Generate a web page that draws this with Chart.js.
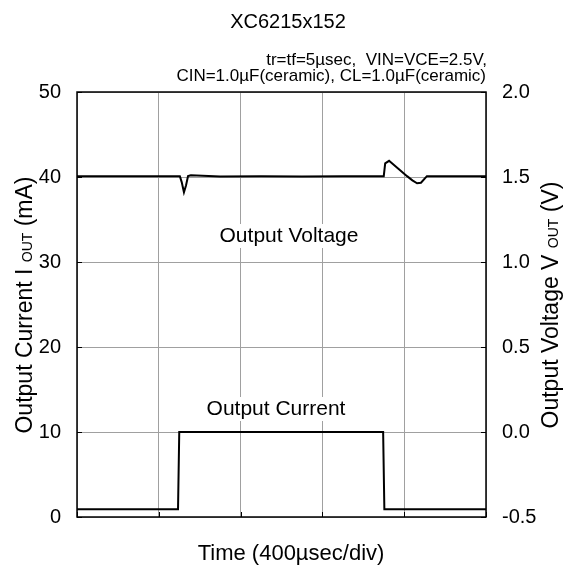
<!DOCTYPE html>
<html>
<head>
<meta charset="utf-8">
<script src="https://cdn.jsdelivr.net/npm/chart.js@4.4.1/dist/chart.umd.min.js"></script>
<style>
  body { margin: 0; background: #fff; }
</style>
</head>
<body>
<canvas id="chart" width="581" height="567"></canvas>
<script>
// time in usec, 400 usec per division
const currentTime = [0, 494, 500, 1497, 1503, 2000];
const currentValues = [0.9, 0.9, 10, 10, 0.9, 0.9];

const voltageTime = [0, 300, 503, 512, 523, 533, 543, 557, 700, 900, 1100, 1300, 1500, 1507, 1526, 1570, 1614, 1640, 1663, 1682, 1711, 1800, 2000];
const voltageValues = [1.505, 1.505, 1.505, 1.47, 1.41, 1.45, 1.505, 1.51, 1.503, 1.505, 1.503, 1.505, 1.505, 1.58, 1.595, 1.55, 1.505, 1.48, 1.463, 1.466, 1.505, 1.505, 1.505];

const currentTicks = [0, 10, 20, 30, 40, 50];
const voltageTicks = [-0.5, 0.0, 0.5, 1.0, 1.5, 2.0];
const timeDivs = [0, 400, 800, 1200, 1600, 2000];

const FONT = "'Liberation Sans', Arial, sans-serif";

const textPlugin = {
  id: 'textPlugin',
  beforeDatasetsDraw(chart) {
    const { ctx, chartArea: { left, right, top, bottom }, scales: { x, y, y1 } } = chart;
    ctx.save();
    // inward tick marks
    ctx.strokeStyle = '#000';
    ctx.lineWidth = 1;
    ctx.beginPath();
    currentTicks.forEach((v) => {
      const py = Math.round(y.getPixelForValue(v)) + 0.5;
      ctx.moveTo(left, py); ctx.lineTo(left + 5, py);
    });
    voltageTicks.forEach((v) => {
      const py = Math.round(y1.getPixelForValue(v)) + 0.5;
      ctx.moveTo(right, py); ctx.lineTo(right - 5, py);
    });
    timeDivs.forEach((v) => {
      const px = Math.round(x.getPixelForValue(v)) + 0.5;
      ctx.moveTo(px, bottom); ctx.lineTo(px, bottom - 5);
    });
    ctx.stroke();

    // labels inside the plot, white box hides the grid behind them
    ctx.font = '21px ' + FONT;
    ctx.textAlign = 'center';
    ctx.textBaseline = 'alphabetic';
    [['Output Voltage', 289, 242], ['Output Current', 276, 415]].forEach(([t, cx, by]) => {
      const w = ctx.measureText(t).width;
      ctx.fillStyle = '#fff';
      ctx.fillRect(cx - w / 2 - 3, by - 18, w + 6, 24);
      ctx.fillStyle = '#000';
      ctx.fillText(t, cx, by);
    });
    ctx.restore();
  },
  afterDraw(chart) {
    const { ctx, chartArea: { left, right, top, bottom } } = chart;
    ctx.save();
    // frame
    ctx.strokeStyle = '#000';
    ctx.lineWidth = 1.5;
    ctx.strokeRect(left, top, right - left, bottom - top);

    ctx.fillStyle = '#000';
    ctx.textBaseline = 'alphabetic';
    ctx.font = '20px ' + FONT;
    ctx.textAlign = 'center';
    ctx.fillText('XC6215x152', 288, 28);
    ctx.font = '22px ' + FONT;
    ctx.fillText('Time (400µsec/div)', 291, 560);

    ctx.font = '17px ' + FONT;
    ctx.textAlign = 'right';
    ctx.fillText('tr=tf=5µsec,  VIN=VCE=2.5V,', 487, 65);
    ctx.fillText('CIN=1.0µF(ceramic), CL=1.0µF(ceramic)', 486, 81);

    // rotated axis titles with small "OUT"
    const drawRotated = (parts, bx, cy) => {
      let total = 0;
      parts.forEach(([t, size]) => { ctx.font = size + 'px ' + FONT; total += ctx.measureText(t).width; });
      ctx.save();
      ctx.translate(bx, cy);
      ctx.rotate(-Math.PI / 2);
      ctx.textAlign = 'left';
      let pos = -total / 2;
      parts.forEach(([t, size]) => {
        ctx.font = size + 'px ' + FONT;
        ctx.fillText(t, pos, 0);
        pos += ctx.measureText(t).width;
      });
      ctx.restore();
    };
    drawRotated([['Output Current I ', 23], ['OUT', 14], [' (mA)', 23]], 32, 305);
    drawRotated([['Output Voltage V ', 23], ['OUT', 14], [' (V)', 23]], 558, 305);
    ctx.restore();
  },
};

const config = {
  type: 'line',
  data: {
    datasets: [
      {
        label: 'Output Current',
        data: currentTime.map((t, i) => ({ x: t, y: currentValues[i] })),
        borderColor: '#000',
        borderWidth: 2,
        pointRadius: 0,
        tension: 0,
        yAxisID: 'y',
      },
      {
        label: 'Output Voltage',
        data: voltageTime.map((t, i) => ({ x: t, y: voltageValues[i] })),
        borderColor: '#000',
        borderWidth: 2,
        pointRadius: 0,
        tension: 0,
        yAxisID: 'y1',
      },
    ],
  },
  options: {
    responsive: false,
    animation: false,
    layout: { padding: { top: 92, left: 0, right: 0, bottom: 0 } },
    scales: {
      x: {
        type: 'linear',
        min: 0,
        max: 2000,
        ticks: { display: false, stepSize: 400 },
        grid: { color: '#a0a0a0', lineWidth: 1, drawTicks: false },
        border: { display: false },
        afterFit: (s) => { s.height = 50; },
      },
      y: {
        position: 'left',
        min: 0,
        max: 50,
        ticks: { stepSize: 10, padding: 16, color: '#000', font: { family: FONT, size: 20 } },
        grid: { color: '#a0a0a0', lineWidth: 1, drawTicks: false },
        border: { display: false },
        afterFit: (s) => { s.width = 77; },
      },
      y1: {
        position: 'right',
        min: -0.5,
        max: 2.0,
        ticks: { stepSize: 0.5, padding: 16, color: '#000', font: { family: FONT, size: 20 }, callback: (v) => v.toFixed(1) },
        grid: { display: false, drawTicks: false },
        border: { display: false },
        afterFit: (s) => { s.width = 95; },
      },
    },
    plugins: {
      legend: { display: false },
      tooltip: { enabled: false },
    },
  },
  plugins: [textPlugin],
};

new Chart(document.getElementById('chart'), config);
</script>
</body>
</html>
